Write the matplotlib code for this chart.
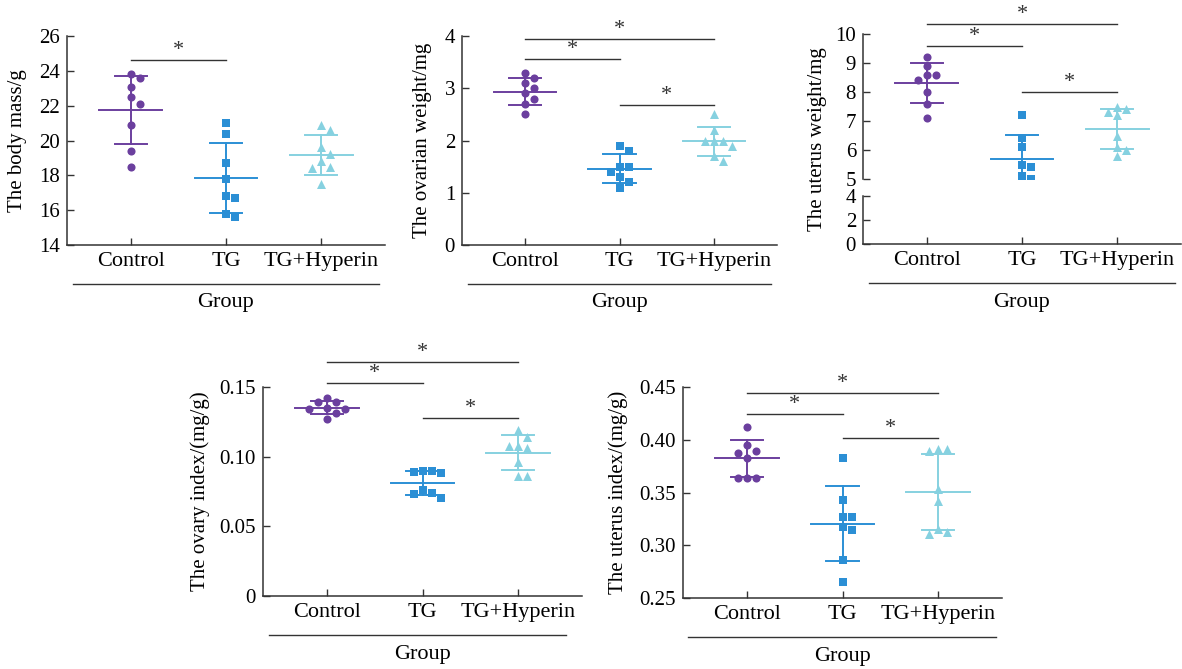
import numpy as np
import matplotlib.pyplot as plt

plt.rcParams['font.family'] = ['Liberation Serif', 'DejaVu Serif']
plt.rcParams['font.size'] = 15

groups = ['Control', 'TG', 'TG+Hyperin']
colors = ['#6b3f9e', '#2b8fd5', '#86d1e0']
markers = ['o', 's', '^']
msizes = [34, 30, 42]

# values, one list per group
body_mass = [[23.8, 23.6, 23.1, 22.5, 22.1, 20.9, 19.4, 18.5],
             [21.0, 20.4, 18.7, 17.8, 16.8, 16.7, 15.8, 15.6],
             [20.9, 20.6, 19.6, 19.2, 18.8, 18.5, 18.4, 17.5]]
ovarian_weight = [[3.3, 3.2, 3.1, 3.0, 2.9, 2.8, 2.7, 2.5],
                  [1.9, 1.8, 1.5, 1.5, 1.4, 1.3, 1.2, 1.1],
                  [2.5, 2.2, 2.0, 2.0, 2.0, 1.9, 1.7, 1.6]]
uterus_weight = [[9.2, 8.9, 8.6, 8.6, 8.4, 8.0, 7.6, 7.1],
                 [7.2, 6.4, 6.1, 5.5, 5.4, 5.1, 5.0, 4.8],
                 [7.5, 7.4, 7.3, 7.2, 6.5, 6.1, 6.0, 5.8]]
ovary_index = [[0.142, 0.139, 0.139, 0.135, 0.134, 0.134, 0.131, 0.127],
               [0.090, 0.090, 0.089, 0.088, 0.076, 0.074, 0.073, 0.070],
               [0.119, 0.114, 0.108, 0.108, 0.106, 0.096, 0.086, 0.086]]
uterus_index = [[0.412, 0.395, 0.389, 0.387, 0.383, 0.364, 0.364, 0.364],
                [0.383, 0.343, 0.327, 0.327, 0.317, 0.314, 0.286, 0.265],
                [0.391, 0.391, 0.389, 0.353, 0.342, 0.315, 0.313, 0.311]]

# significance brackets: (group a, group b, height)
body_sig = [(0, 1, 24.62)]
ovarian_sig = [(0, 2, 3.95), (0, 1, 3.56), (1, 2, 2.68)]
uterus_sig = [(0, 2, 10.34), (0, 1, 9.59), (1, 2, 8.0)]
ovary_idx_sig = [(0, 2, 0.168), (0, 1, 0.153), (1, 2, 0.128)]
uterus_idx_sig = [(0, 2, 0.444), (0, 1, 0.424), (1, 2, 0.402)]

W, H = 1182, 669
XLIM = (-0.67, 2.67)
INK = '#333333'

fig = plt.figure(figsize=(W / 100, H / 100), dpi=100)


def make_axes(left, top, right, bottom):
    ax = fig.add_axes([left / W, 1 - bottom / H, (right - left) / W, (bottom - top) / H])
    ax.set_xlim(*XLIM)
    for s in ['top', 'right']:
        ax.spines[s].set_visible(False)
    for s in ['left', 'bottom']:
        ax.spines[s].set_color(INK)
        ax.spines[s].set_linewidth(1.1)
    ax.tick_params(direction='in', length=5, width=1, color=INK, labelsize=15, pad=5)
    ax.tick_params(axis='x', labelsize=16)
    return ax


def swarm(ax, values, ylim, d=9.0):
    pos = ax.get_position()
    ypx = pos.height * H / (ylim[1] - ylim[0])
    xpx = pos.width * W / (XLIM[1] - XLIM[0])
    placed, offs = [], []
    for v in values:
        y = v * ypx
        for k in [0, 1, -1, 2, -2, 3, -3, 4, -4]:
            x = k * d
            if all((x - px) ** 2 + (y - py) ** 2 >= (0.95 * d) ** 2 for px, py in placed):
                break
        placed.append((x, y))
        offs.append(x / xpx)
    return np.array(offs)


def draw_groups(ax, data, ylim):
    for i, vals in enumerate(data):
        vals = np.array(vals)
        m, sd = vals.mean(), vals.std(ddof=1)
        c = colors[i]
        ax.scatter(i + swarm(ax, vals, ylim), vals, marker=markers[i], s=msizes[i],
                   color=c, linewidths=0, zorder=3)
        ax.plot([i - 0.33, i + 0.33], [m, m], color=c, lw=1.4, zorder=2)
        ax.plot([i, i], [m - sd, m + sd], color=c, lw=1.4, zorder=2)
        for y in (m - sd, m + sd):
            ax.plot([i - 0.17, i + 0.17], [y, y], color=c, lw=1.4, zorder=2)


def brackets(ax, sig):
    for a, b, y in sig:
        ax.plot([a, b], [y, y], color=INK, lw=1, clip_on=False)
        ax.annotate('*', xy=((a + b) / 2, y), xytext=(0, 0), textcoords='offset points',
                    ha='center', va='bottom', fontsize=16, color=INK, annotation_clip=False)


def group_axis(ax, x0=0.02, x1=0.98):
    hpx = ax.get_position().height * H
    ax.set_xticks([0, 1, 2])
    ax.set_xticklabels(groups)
    ax.plot([x0, x1], [-39 / hpx] * 2, color=INK, lw=1, transform=ax.transAxes, clip_on=False)
    ax.text(0.5, -58 / hpx, 'Group', transform=ax.transAxes, ha='center', va='center', fontsize=16)


def ylabel(text, xpx, ax_top, ax_bottom):
    fig.text(xpx / W, 1 - (ax_top + ax_bottom) / 2 / H, text, rotation=90,
             ha='center', va='center', fontsize=15)


# panel 1: body mass
ax1 = make_axes(67, 36, 385, 245)
ax1.set_ylim(14, 26)
ax1.set_yticks(np.arange(14, 27, 2))
draw_groups(ax1, body_mass, (14, 26))
brackets(ax1, body_sig)
group_axis(ax1)
ylabel('The body mass/g', 18, 36, 245)

# panel 2: ovarian weight
ax2 = make_axes(462, 36, 777, 245)
ax2.set_ylim(0, 4)
ax2.set_yticks(range(0, 5))
draw_groups(ax2, ovarian_weight, (0, 4))
brackets(ax2, ovarian_sig)
group_axis(ax2)
ylabel('The ovarian weight/mg', 423, 36, 245)

# panel 3: uterus weight, broken y axis
ax3 = make_axes(863, 34, 1181, 179)
ax3.set_ylim(5, 10)
ax3.set_yticks(range(5, 11))
ax3.spines['bottom'].set_visible(False)
ax3.tick_params(axis='x', bottom=False, labelbottom=False)
draw_groups(ax3, uterus_weight, (5, 10))
brackets(ax3, uterus_sig)
ax3b = make_axes(863, 196, 1181, 244)
ax3b.set_ylim(0, 4)
ax3b.set_yticks([0, 2, 4])
group_axis(ax3b)
ylabel('The uterus weight/mg', 817, 34, 244)

# panel 4: ovary index
ax4 = make_axes(263, 387, 582, 596)
ax4.set_ylim(0, 0.15)
ax4.set_yticks([0, 0.05, 0.10, 0.15])
ax4.set_yticklabels(['0', '0.05', '0.10', '0.15'])
draw_groups(ax4, ovary_index, (0, 0.15))
brackets(ax4, ovary_idx_sig)
group_axis(ax4, 0.02, 0.95)
ylabel('The ovary index/(mg/g)', 200, 387, 596)

# panel 5: uterus index
ax5 = make_axes(683, 387, 1002, 598)
ax5.set_ylim(0.25, 0.45)
ax5.set_yticks([0.25, 0.30, 0.35, 0.40, 0.45])
ax5.set_yticklabels(['0.25', '0.30', '0.35', '0.40', '0.45'])
draw_groups(ax5, uterus_index, (0.25, 0.45))
brackets(ax5, uterus_idx_sig)
group_axis(ax5, 0.016, 0.98)
ylabel('The uterus index/(mg/g)', 618, 387, 598)

fig.savefig('out.png', dpi=100)
